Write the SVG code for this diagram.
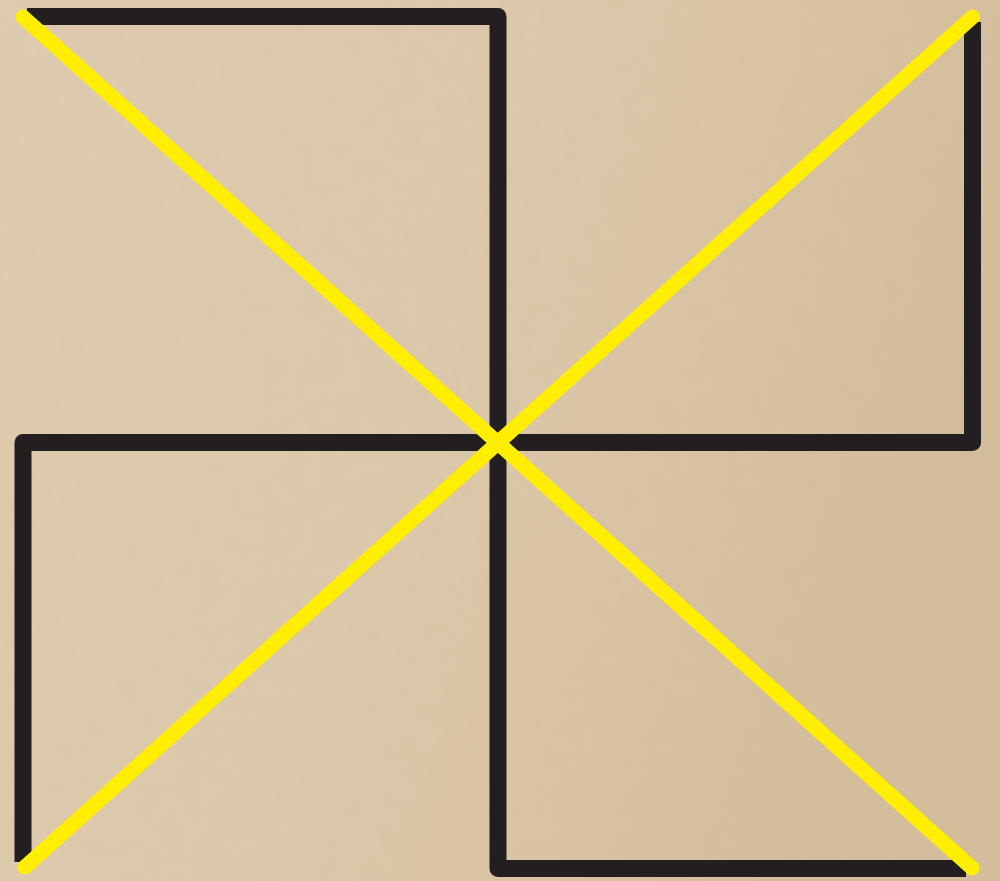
<svg xmlns="http://www.w3.org/2000/svg" width="1000" height="881" viewBox="0 0 1000 881">
  <defs>
    <linearGradient id="bg" x1="0" y1="0" x2="1" y2="0.3">
      <stop offset="0" stop-color="#DFCCB0"/>
      <stop offset="0.6" stop-color="#DBC7A9"/>
      <stop offset="1" stop-color="#D4BD9B"/>
    </linearGradient>
    <filter id="grain" x="0" y="0" width="100%" height="100%">
      <feTurbulence type="fractalNoise" baseFrequency="0.05" numOctaves="3" seed="4" result="n"/>
      <feColorMatrix in="n" type="matrix" values="0 0 0 0 0.55  0 0 0 0 0.42  0 0 0 0 0.25  0 0 0 0.35 -0.1"/>
    </filter>
    <style>
      .blk { fill: none; stroke: #231F20; stroke-width: 17; stroke-linejoin: round; stroke-linecap: butt; }
      .ylw { fill: none; stroke: #FFEE00; stroke-width: 15; stroke-linecap: round; }
    </style>
  </defs>
  <g id="background">
    <rect width="1000" height="881" fill="url(#bg)"/>
    <rect width="1000" height="881" filter="url(#grain)" opacity="0.35"/>
  </g>
  <g id="pinwheel">
    <path class="blk" d="M 27 16.5 L 498 16.5 L 498 868.5 L 966 868.5"/>
    <path class="blk" d="M 23 862 L 23 442.5 L 972.5 442.5 L 972.5 22"/>
  </g>
  <g id="diagonals">
    <line class="ylw" x1="23" y1="17" x2="972" y2="868"/>
    <line class="ylw" x1="972.5" y1="17" x2="25" y2="867"/>
  </g>
</svg>
